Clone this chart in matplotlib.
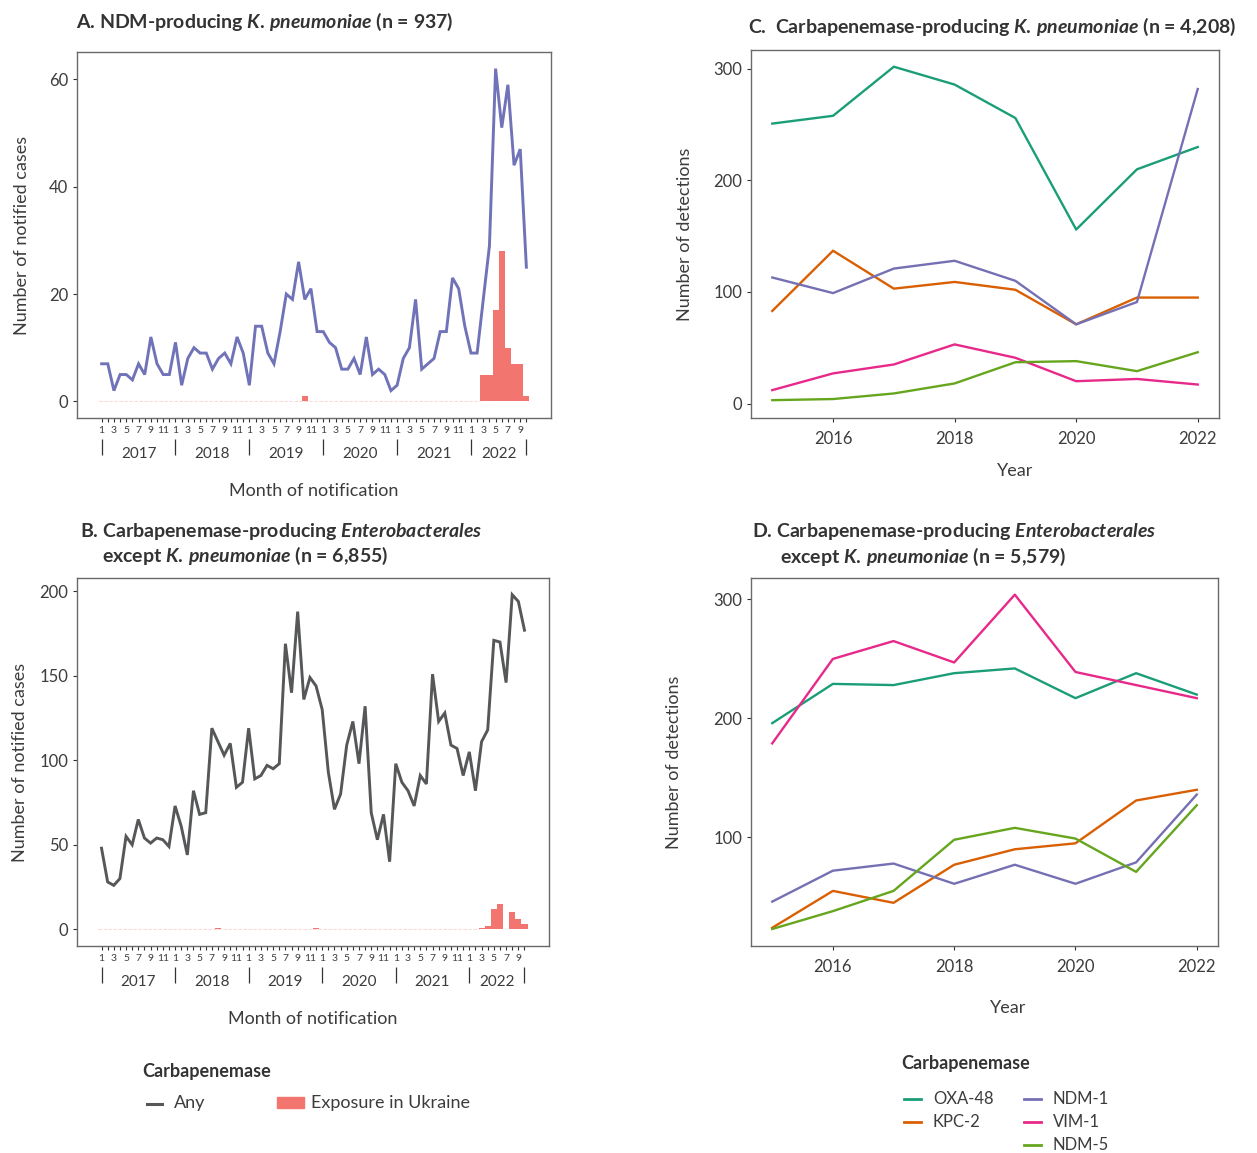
import numpy as np
import matplotlib.pyplot as plt
from matplotlib.lines import Line2D
from matplotlib.patches import Rectangle

plt.rcParams['font.family'] = ['Lato', 'DejaVu Sans']
plt.rcParams['mathtext.fontset'] = 'custom'
plt.rcParams['mathtext.it'] = 'Lato:italic:bold'
plt.rcParams['mathtext.rm'] = 'Lato:bold'
plt.rcParams['mathtext.bf'] = 'Lato:bold'

# monthly notifications, Jan 2017 - Oct 2022
years_monthly = ['2017', '2018', '2019', '2020', '2021', '2022']
kp_ndm_any = [7, 7, 2, 5, 5, 4, 7, 5, 12, 7, 5, 5,
              11, 3, 8, 10, 9, 9, 6, 8, 9, 7, 12, 9,
              3, 14, 14, 9, 7, 13, 20, 19, 26, 19, 21, 13,
              13, 11, 10, 6, 6, 8, 5, 12, 5, 6, 5, 2,
              3, 8, 10, 19, 6, 7, 8, 13, 13, 23, 21, 14,
              9, 9, 19, 29, 62, 51, 59, 44, 47, 25]
kp_ndm_ukr = [0] * 70
for i, v in [(33, 1), (62, 5), (63, 5), (64, 17), (65, 28), (66, 10), (67, 7), (68, 7), (69, 1)]:
    kp_ndm_ukr[i] = v

ent_any = [48, 28, 26, 30, 55, 50, 65, 54, 51, 54, 53, 49,
           73, 61, 44, 82, 68, 69, 119, 111, 103, 110, 84, 87,
           119, 89, 91, 97, 95, 98, 169, 140, 188, 136, 149, 144,
           130, 93, 71, 80, 109, 123, 98, 132, 69, 53, 68, 40,
           98, 87, 82, 73, 91, 86, 151, 123, 128, 109, 107, 91,
           105, 82, 111, 118, 171, 170, 146, 198, 194, 177]
ent_ukr = [0] * 70
for i, v in [(19, 1), (35, 1), (62, 1), (63, 2), (64, 12), (65, 15), (67, 10), (68, 6), (69, 3)]:
    ent_ukr[i] = v

# yearly detections by carbapenemase
years = [2015, 2016, 2017, 2018, 2019, 2020, 2021, 2022]
kp_types = {
    'OXA-48': [251, 258, 302, 286, 256, 156, 210, 230],
    'KPC-2': [83, 137, 103, 109, 102, 71, 95, 95],
    'NDM-1': [113, 99, 121, 128, 110, 71, 91, 282],
    'VIM-1': [12, 27, 35, 53, 41, 20, 22, 17],
    'NDM-5': [3, 4, 9, 18, 37, 38, 29, 46],
}
ent_types = {
    'OXA-48': [196, 229, 228, 238, 242, 217, 238, 220],
    'KPC-2': [24, 55, 45, 77, 90, 95, 131, 140],
    'NDM-1': [46, 72, 78, 61, 77, 61, 79, 136],
    'VIM-1': [179, 250, 265, 247, 304, 239, 228, 217],
    'NDM-5': [23, 38, 55, 98, 108, 99, 71, 127],
}
type_colors = {'OXA-48': '#1B9E77', 'KPC-2': '#D95F02', 'NDM-1': '#7570B3',
               'VIM-1': '#E7298A', 'NDM-5': '#66A61E'}

W, H = 1257, 1153
fig = plt.figure(figsize=(W / 100, H / 100), dpi=100)
TXT = '#3c3c3c'
BAR = '#F2766F'


def rect(l, r, t, b):
    return [l / W, 1 - b / H, (r - l) / W, (b - t) / H]


def px(x, y):
    return x / W, 1 - y / H


def style(ax):
    for s in ax.spines.values():
        s.set_color('#6a6a6a')
        s.set_linewidth(1.0)
    ax.tick_params(colors='#333333', labelcolor=TXT, length=3, width=0.8, labelsize=12)


def monthly_panel(ax, any_vals, ukr_vals, line_col, ylim, yticks, ylabel, ylab_x, h):
    idx = np.arange(len(any_vals))
    ukr = np.array(ukr_vals)
    ax.bar(idx, ukr, width=1.0, color=BAR, zorder=2)
    first = np.argmax(idx >= 62)
    ax.hlines(0, -0.5, first - 0.5, color=BAR, alpha=0.35, lw=0.6, ls=(0, (4, 2)), zorder=1)
    ax.plot(idx, any_vals, color=line_col, lw=2.1, zorder=3, solid_joinstyle='miter')
    ax.set_xlim(-4, 73)
    ax.set_ylim(*ylim)
    ax.set_yticks(yticks)
    style(ax)
    ax.set_xticks(idx)
    ax.set_xticklabels([str(i % 12 + 1) if (i % 12) % 2 == 0 else '' for i in idx], fontsize=7.5)
    ax.tick_params(axis='x', pad=2.5)
    tr = ax.get_xaxis_transform()
    seps = list(range(0, 70, 12)) + [69]
    ax.vlines(seps, -21 / h, -37 / h, transform=tr, color='#333333', lw=0.9, clip_on=False)
    for k, yr in enumerate(years_monthly):
        c = (seps[k] + seps[k + 1]) / 2
        ax.text(c, -36 / h, yr, transform=tr, ha='center', va='center', fontsize=11, color=TXT)
    ax.set_ylabel(ylabel, fontsize=13, color=TXT)
    ax.yaxis.set_label_coords(ylab_x, 0.5)
    ax.set_xlabel('Month of notification', fontsize=13, color=TXT)
    ax.xaxis.set_label_coords(0.5, -65 / h)


def yearly_panel(ax, data, ylim, yticks, ylab_x, xlab_xy):
    for name, vals in data.items():
        ax.plot(years, vals, color=type_colors[name], lw=1.7)
    ax.set_xlim(2014.65, 2022.35)
    ax.set_ylim(*ylim)
    ax.set_yticks(yticks)
    ax.set_xticks([2016, 2018, 2020, 2022])
    style(ax)
    ax.tick_params(axis='x', pad=6)
    ax.set_ylabel('Number of detections', fontsize=13, color=TXT)
    ax.yaxis.set_label_coords(ylab_x, 0.5)
    ax.set_xlabel('Year', fontsize=13, color=TXT)
    ax.xaxis.set_label_coords(*xlab_xy)


axA = fig.add_axes(rect(77, 551, 52, 418))
monthly_panel(axA, kp_ndm_any, kp_ndm_ukr, '#7073B8', (-3.1, 65.1), [0, 20, 40, 60],
              'Number of notified cases', -0.099, 366)

axB = fig.add_axes(rect(77, 549, 578, 946))
monthly_panel(axB, ent_any, ent_ukr, '#555759', (-9.9, 207.9), [0, 50, 100, 150, 200],
              'Number of notified cases', -0.104, 368)

axC = fig.add_axes(rect(751, 1219, 50, 418))
yearly_panel(axC, kp_types, (-13, 317), [0, 100, 200, 300], -0.124, (0.564, -45 / 368))

axD = fig.add_axes(rect(751, 1218, 578, 946))
yearly_panel(axD, ent_types, (8.7, 318), [100, 200, 300], -0.148, (0.550, -54 / 368))

# titles
kp = r'$K.\,pneumoniae$'
tkw = dict(fontsize=14, fontweight='bold', color='#333333', va='center', ha='left')
fig.text(*px(76, 22), 'A. NDM-producing ' + kp + ' (n = 937)', **tkw)
fig.text(*px(748, 27), 'C.  Carbapenemase-producing ' + kp + ' (n = 4,208)', **tkw)
fig.text(*px(80, 532), r'B. Carbapenemase-producing $Enterobacterales$', **tkw)
fig.text(*px(102, 556), 'except ' + kp + ' (n = 6,855)', **tkw)
fig.text(*px(752, 532), r'D. Carbapenemase-producing $Enterobacterales$', **tkw)
fig.text(*px(780, 557), 'except ' + kp + ' (n = 5,579)', **tkw)

# legend, left
fig.text(*px(142, 1072), 'Carbapenemase', fontsize=13, fontweight='bold', color='#333333',
         va='center', ha='left')
x0, y0 = px(147, 1104)
x1, _ = px(162, 1104)
fig.add_artist(Line2D([x0, x1], [y0, y0], color='#555759', lw=2.2))
fig.text(*px(174, 1103), 'Any', fontsize=13, color=TXT, va='center', ha='left')
fig.add_artist(Rectangle(px(277, 1108), 27 / W, 11 / H, color=BAR))
fig.text(*px(311, 1103), 'Exposure in Ukraine', fontsize=13, color=TXT, va='center', ha='left')

# legend, right
fig.text(*px(901, 1063), 'Carbapenemase', fontsize=13, fontweight='bold', color='#333333',
         va='center', ha='left')
slots = {'OXA-48': (904, 1099), 'KPC-2': (904, 1122), 'NDM-1': (1024, 1099),
         'VIM-1': (1024, 1122), 'NDM-5': (1024, 1145)}
for name, (lx, ly) in slots.items():
    a, b = px(lx, ly)
    c, _ = px(lx + 17, ly)
    fig.add_artist(Line2D([a, c], [b, b], color=type_colors[name], lw=2.0))
    fig.text(*px(lx + 29, ly), name, fontsize=12, color=TXT, va='center', ha='left')

fig.savefig('out.png', dpi=100)
